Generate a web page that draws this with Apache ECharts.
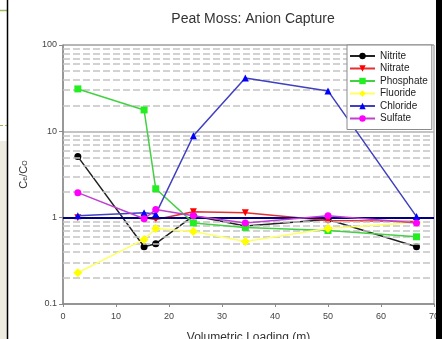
<!DOCTYPE html>
<html>
<head>
<meta charset="utf-8">
<script src="https://cdn.jsdelivr.net/npm/echarts@6/dist/echarts.min.js"></script>
<style>
html,body{margin:0;padding:0;background:#fff;}
#c{width:442px;height:339px;}
</style>
</head>
<body>
<div id="c"></div>
<script>
var xValues = [2.8, 15.3, 17.5, 24.6, 34.4, 50, 66.7];
var seriesNames = ['Nitrite', 'Nitrate', 'Phosphate', 'Fluoride', 'Chloride', 'Sulfate'];
var nitrite   = [5.1, 0.46, 0.50, 1.05, 0.80, 0.95, 0.46];
var nitrate   = [1.0, 1.0, 0.95, 1.17, 1.14, 0.93, 0.90];
var phosphate = [31, 17.7, 2.16, 0.87, 0.77, 0.71, 0.60];
var fluoride  = [0.23, 0.56, 0.75, 0.69, 0.53, 0.75, 0.88];
var chloride  = [1.05, 1.14, 1.10, 8.9, 41.5, 29.4, 1.03];
var sulfate   = [1.95, 0.97, 1.24, 1.05, 0.87, 1.05, 0.87];
var yTickLabels = [0.1, 1, 10, 100];
var xTickLabels = [0, 10, 20, 30, 40, 50, 60, 70];
var minorGrid = [0.2,0.3,0.4,0.5,0.6,0.7,0.8,0.9,2,3,4,5,6,7,8,9,20,30,40,50,60,70,80,90];
var refLine = 1;

function pts(arr){ return xValues.map(function(x,i){ return [x, arr[i]]; }); }

var styles = [
  {line:'#222222', item:'#000000', symbol:'circle'},
  {line:'#e03030', item:'#ff0000', symbol:'triangle', rotate:180},
  {line:'#44d044', item:'#22ee22', symbol:'rect'},
  {line:'#ffff66', item:'#ffff00', symbol:'diamond'},
  {line:'#4040c0', item:'#0000ff', symbol:'triangle'},
  {line:'#c040d0', item:'#ff00ff', symbol:'circle'}
];
var datas = [nitrite, nitrate, phosphate, fluoride, chloride, sulfate];

var series = [{
  type:'line', name:'_grid', data:[], silent:true, z:1,
  markLine:{
    silent:true, symbol:['none','none'], label:{show:false},
    lineStyle:{color:'#c4c4c4', type:[7,3], width:1.5},
    data: minorGrid.map(function(v){ return {yAxis:v}; })
  }
}];
datas.forEach(function(d,i){
  var s = styles[i];
  series.push({
    type:'line', name:seriesNames[i], data:pts(d), z:3+i,
    symbol:s.symbol, symbolSize: s.symbol==='diamond'?9:7, symbolRotate:s.rotate||0,
    lineStyle:{color:s.line, width:1.5},
    itemStyle:{color:s.item},
    animation:false
  });
});
series.push({
  type:'line', name:'_ref', data:[], silent:true, z:2,
  markLine:{
    silent:true, symbol:['none','none'], label:{show:false},
    lineStyle:{color:'#000080', type:'solid', width:2},
    data:[{yAxis:refLine}]
  }
});

var chart = echarts.init(document.getElementById('c'), null, {renderer:'canvas'});
chart.setOption({
  animation:false,
  backgroundColor:'#ffffff',
  title:{
    text:'Peat Moss: Anion Capture', left:248, top:7, textAlign:'center',
    textStyle:{fontFamily:'Liberation Sans, Arial', fontSize:14, fontWeight:'normal', color:'#333'}
  },
  grid:{left:63, right:8, top:45, bottom:35, show:true, borderColor:'#8a8a8a', borderWidth:1, backgroundColor:'transparent', containLabel:false, outerBoundsMode:'none'},
  legend:{
    data:seriesNames, orient:'vertical', left:347, top:45, z:50,
    backgroundColor:'#ffffff', borderColor:'#8a8a8a', borderWidth:1,
    padding:[6,4,6,2], itemWidth:25, itemHeight:8, itemGap:2.5,
    textStyle:{fontFamily:'Liberation Sans, Arial', fontSize:10, lineHeight:10, color:'#222'}
  },
  xAxis:{
    type:'value', min:0, max:70, interval:10,
    axisLine:{show:true, lineStyle:{color:'#8a8a8a', width:1.5}},
    axisTick:{show:true, length:3, lineStyle:{color:'#8a8a8a'}},
    axisLabel:{fontFamily:'Liberation Sans, Arial', fontSize:9, color:'#444', margin:8,
      formatter:function(v){ return xTickLabels.indexOf(v)>=0 ? String(v) : ''; }},
    splitLine:{show:false},
    name:'Volumetric Loading (m)', nameLocation:'middle', nameGap:28,
    nameTextStyle:{fontFamily:'Liberation Sans, Arial', fontSize:12, color:'#333'}
  },
  yAxis:{
    type:'log', logBase:10, min:0.1, max:100,
    axisLine:{show:true, lineStyle:{color:'#8a8a8a', width:1.5}},
    axisTick:{show:true, length:4, lineStyle:{color:'#8a8a8a'}},
    axisLabel:{fontFamily:'Liberation Sans, Arial', fontSize:9, color:'#444', margin:6,
      formatter:function(v){ var r = yTickLabels.filter(function(t){return Math.abs(t-v)<1e-9;}); return r.length?String(r[0]):''; }},
    splitLine:{show:true, lineStyle:{color:'#b0b0b0', width:1.5}},
    name:'{a|C}{s|e}{a|/C}{s|O}', nameLocation:'middle', nameGap:34, nameRotate:90,
    nameTextStyle:{
      rich:{
        a:{fontFamily:'Liberation Sans, Arial', fontSize:11, color:'#333', verticalAlign:'bottom', lineHeight:14},
        s:{fontFamily:'Liberation Sans, Arial', fontSize:7, color:'#333', verticalAlign:'bottom', lineHeight:10}
      }
    }
  },
  graphic:[
    {type:'rect', shape:{x:0, y:141, width:7, height:198}, style:{fill:'#eeece1'}, z:100},
    {type:'line', shape:{x1:0, y1:10.5, x2:7, y2:10.5}, style:{stroke:'#9bbb59', lineWidth:1.5}, z:100},
    {type:'line', shape:{x1:0, y1:125.5, x2:7, y2:125.5}, style:{stroke:'#9bbb59', lineWidth:1, lineDash:[3,2]}, z:100},
    {type:'line', shape:{x1:7.5, y1:0, x2:7.5, y2:339}, style:{stroke:'#000', lineWidth:1.5}, z:100},
    {type:'rect', shape:{x:436, y:0, width:6, height:339}, style:{fill:'#000'}, z:100}
  ],
  series:series
});
</script>
</body>
</html>
